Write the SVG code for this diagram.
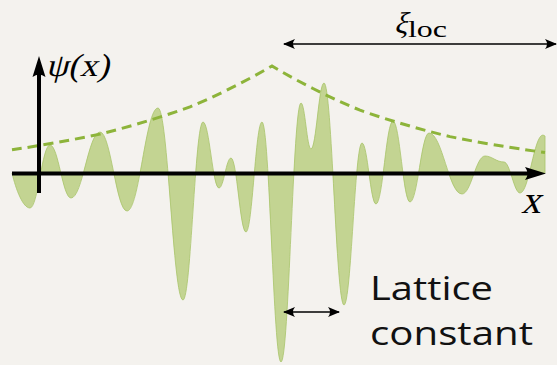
<svg xmlns="http://www.w3.org/2000/svg" width="557" height="365" viewBox="0 0 557 365">
<defs>
<style>
.wave{fill:#c3d492;stroke:#a8c46a;stroke-width:0.8}
.env{fill:none;stroke:#8db43a;stroke-width:3;stroke-dasharray:10 6}
.axis{fill:none;stroke:#000;stroke-width:4}
.thin{fill:none;stroke:#000;stroke-width:1.6}
.rm{font-family:"Liberation Serif","DejaVu Serif",serif;fill:#000}
.sans{font-family:"Open Sans","Noto Sans",sans-serif;fill:#111}
</style>
<marker id="ah" viewBox="0 0 12 10" refX="11" refY="5" markerWidth="12" markerHeight="10" markerUnits="userSpaceOnUse" orient="auto-start-reverse">
<path d="M12,5 L0,0 Q4,5 0,10 Z" fill="#000"/>
</marker>
</defs>
<rect width="557" height="365" fill="#f4f2ee"/>
<g id="wavefunction">
<path class="wave" d="M12,173 C16,190 23,208 30,208 C38,208 42,145 50,145 C58.4,145 62.6,198 71,198 C82.6,198 88.4,132 100,132 C110.8,132 116.2,211 127,211 C139.4,211 145.6,108 158,108 C168,108 173,300 183,300 C191,300 195,122 203,122 C209.4,122 212.6,188 219,188 C223.8,188 226.2,158 231,158 C237,158 240,232 246,232 C252.4,232 255.6,122 262,122 C269.6,122 273.4,362 281,362 C289,362 293,103 301,103 C305,103 307,149 311,149 C316.2,149 318.8,83 324,83 C332,83 336,305 344,305 C351.2,305 354.8,143 362,143 C367.6,143 370.4,204 376,204 C382.8,204 386.2,121 393,121 C399.8,121 403.2,202 410,202 C417.6,202 421.4,133 429,133 C442.2,133 448.8,194 462,194 C471.2,194 475.8,156 485,156 C492,156 496,162 504,162 C510,162 514,193 520,193 C529.2,193 533.8,135 543,135 L545,136 L545,173 Z"/>
</g>
<g id="envelope">
<path class="env" d="M12,149.8 C40,145.7 70,140.4 100,134.1 C130,126.6 160,117.6 190,106.9 C215,96.5 245,81.7 272,66 C300,82.7 330,97.7 360,110.2 C390,120.7 420,129.4 450,136.6 C480,142.7 510,147.7 545,152.5"/>
</g>
<g id="axes">
<line class="axis" x1="12" y1="173.5" x2="530" y2="173.5"/>
<path d="M546,173.5 L525,167 Q530,173.5 525,180 Z" fill="#000"/>
<line class="axis" x1="39" y1="193" x2="39" y2="72"/>
<path d="M39,56 L32.5,77 Q39,72 45.5,77 Z" fill="#000"/>
<text class="rm" transform="translate(46,76) skewX(-14)" font-size="32" textLength="63" lengthAdjust="spacingAndGlyphs">ψ(x)</text>
<text class="rm" transform="translate(521,213) skewX(-14)" font-size="39">x</text>
</g>
<g id="connectors">
<line class="thin" x1="284" y1="44" x2="556" y2="44" marker-start="url(#ah)" marker-end="url(#ah)"/>
<line class="thin" x1="284" y1="312" x2="339" y2="312" marker-start="url(#ah)" marker-end="url(#ah)"/>
</g>
<g id="xi-label">
<text class="rm" transform="translate(394,33) skewX(-14)" font-size="30">ξ</text>
<text class="rm" x="408" y="37" font-size="23" textLength="39" lengthAdjust="spacingAndGlyphs">loc</text>
</g>
<g id="lattice-label">
<text class="sans" x="370" y="300" font-size="33" textLength="123" lengthAdjust="spacingAndGlyphs">Lattice</text>
<text class="sans" x="370" y="345" font-size="33" textLength="163" lengthAdjust="spacingAndGlyphs">constant</text>
</g>
</svg>
